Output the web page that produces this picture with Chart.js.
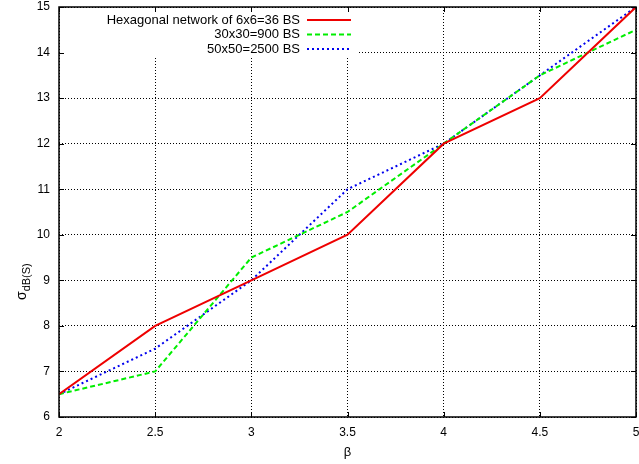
<!DOCTYPE html>
<html>
<head>
<meta charset="utf-8">
<script src="https://cdn.jsdelivr.net/npm/chart.js@4"></script>
<style>
  html, body { margin: 0; padding: 0; background: #fff; }
  #wrap { width: 639px; height: 464px; }
</style>
</head>
<body>
<div id="wrap"><canvas id="c" width="639" height="464"></canvas></div>
<script>
// ====== DATA ======
const betaValues = [2, 2.5, 3, 3.5, 4, 4.5, 5];
const hex36 = [6.5, 8, 9, 10, 12, 13, 15];
const grid900 = [6.5, 7, 9.5, 10.5, 12, 13.5, 14.5];
const grid2500 = [6.5, 7.5, 9, 11, 12, 13.5, 15];
const seriesNames = ["Hexagonal network of 6x6=36 BS", "30x30=900 BS", "50x50=2500 BS"];
const xTicks = [2, 2.5, 3, 3.5, 4, 4.5, 5];
const yTicks = [6, 7, 8, 9, 10, 11, 12, 13, 14, 15];

const FONT = "'Liberation Sans', Arial, sans-serif";

function pts(ys) {
  return betaValues.map((x, i) => ({ x, y: ys[i] }));
}

// ====== PLUGIN: legend box, frame, ticks, legend, y title ======
const gnuplotLook = {
  id: "gnuplotLook",
  beforeDatasetsDraw(chart) {
    // legend box clears the grid behind it
    const a = chart.chartArea;
    const ctx = chart.ctx;
    ctx.save();
    ctx.fillStyle = "#fff";
    ctx.fillRect(a.left + 1, a.top + 1, 358 - a.left, 57 - a.top);
    ctx.restore();
  },
  afterDatasetsDraw(chart) {
    const ctx = chart.ctx;
    const a = chart.chartArea;
    const xs = chart.scales.x, ys = chart.scales.y;
    ctx.save();
    ctx.strokeStyle = "#000";
    ctx.lineWidth = 1;
    ctx.setLineDash([]);
    // inward tick marks on all four sides
    ctx.beginPath();
    xTicks.forEach((t) => {
      const px = Math.round(xs.getPixelForValue(t)) + 0.5;
      ctx.moveTo(px, a.bottom); ctx.lineTo(px, a.bottom - 5);
      ctx.moveTo(px, a.top); ctx.lineTo(px, a.top + 5);
    });
    yTicks.forEach((t) => {
      const py = Math.round(ys.getPixelForValue(t)) + 0.5;
      ctx.moveTo(a.left, py); ctx.lineTo(a.left + 5, py);
      ctx.moveTo(a.right, py); ctx.lineTo(a.right - 5, py);
    });
    ctx.stroke();
    ctx.lineWidth = 1.5;
    ctx.strokeRect(a.left, a.top, a.right - a.left, a.bottom - a.top);

    // legend (text right-aligned, sample on the right)
    const ds = chart.data.datasets;
    ctx.font = "13px " + FONT;
    ctx.textAlign = "right";
    ctx.textBaseline = "middle";
    ds.forEach((d, i) => {
      const y = 20 + i * 14.5;
      ctx.fillStyle = "#000";
      ctx.fillText(d.label, 300, y);
      ctx.strokeStyle = d.borderColor;
      ctx.lineWidth = 2;
      ctx.setLineDash(d.borderDash || []);
      ctx.beginPath();
      ctx.moveTo(307, y); ctx.lineTo(351, y);
      ctx.stroke();
    });
    ctx.setLineDash([]);

    // y title: sigma with subscript
    ctx.fillStyle = "#000";
    ctx.translate(26, 300);
    ctx.rotate(-Math.PI / 2);
    ctx.textAlign = "left";
    ctx.textBaseline = "alphabetic";
    ctx.font = "14px " + FONT;
    ctx.fillText("σ", 0, 0);
    const w = ctx.measureText("σ").width;
    ctx.font = "11px " + FONT;
    ctx.fillText("dB(S)", w, 4);
    ctx.restore();
  },
};

// ====== CHART ======
new Chart(document.getElementById("c").getContext("2d"), {
  type: "line",
  data: {
    datasets: [
      { label: seriesNames[0], data: pts(hex36), borderColor: "#ee0000", borderWidth: 2, pointRadius: 0, tension: 0 },
      { label: seriesNames[1], data: pts(grid900), borderColor: "#00ee00", borderWidth: 2, borderDash: [5, 3], pointRadius: 0, tension: 0 },
      { label: seriesNames[2], data: pts(grid2500), borderColor: "#0000ee", borderWidth: 2, borderDash: [2, 3], pointRadius: 0, tension: 0 },
    ],
  },
  options: {
    responsive: false,
    animation: false,
    layout: { padding: { left: 0, right: 3, top: 7, bottom: 0 } },
    plugins: { legend: { display: false }, tooltip: { enabled: false } },
    scales: {
      x: {
        type: "linear",
        min: 2, max: 5,
        afterBuildTicks: (s) => { s.ticks = xTicks.map((v) => ({ value: v })); },
        afterFit: (s) => { s.height = 47; s.paddingLeft = 0; s.paddingRight = 0; },
        grid: { color: "#000", lineWidth: 1, drawTicks: false },
        border: { display: false, dash: [1, 2] },
        ticks: { color: "#000", font: { size: 12, family: FONT }, padding: 8, maxRotation: 0, callback: (v) => String(v) },
        title: { display: true, text: "β", color: "#000", font: { size: 13, family: FONT }, padding: { top: 0 } },
      },
      y: {
        type: "linear",
        min: 6, max: 15,
        afterBuildTicks: (s) => { s.ticks = yTicks.map((v) => ({ value: v })); },
        afterFit: (s) => { s.width = 59; s.paddingTop = 0; s.paddingBottom = 0; },
        grid: { color: "#000", lineWidth: 1, drawTicks: false },
        border: { display: false, dash: [1, 2] },
        ticks: { color: "#000", font: { size: 12, family: FONT }, padding: 9, callback: (v) => String(v) },
      },
    },
  },
  plugins: [gnuplotLook],
});
</script>
</body>
</html>
